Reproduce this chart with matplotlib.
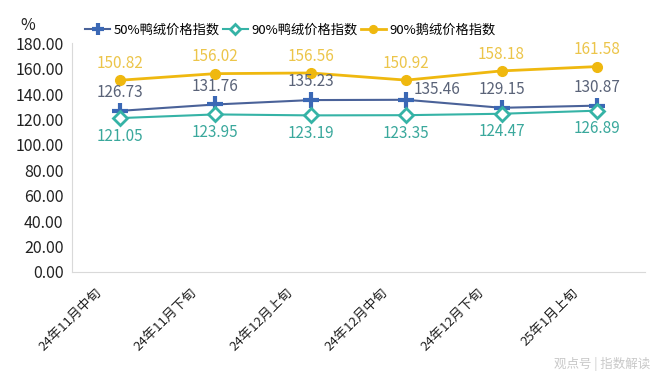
import matplotlib.pyplot as plt
from matplotlib.transforms import ScaledTranslation

plt.rcParams['font.family'] = ['Noto Sans CJK SC', 'DejaVu Sans']

categories = ['24年11月中旬', '24年11月下旬', '24年12月上旬', '24年12月中旬', '24年12月下旬', '25年1月上旬']
duck50 = [126.73, 131.76, 135.23, 135.46, 129.15, 130.87]
duck90 = [121.05, 123.95, 123.19, 123.35, 124.47, 126.89]
goose90 = [150.82, 156.02, 156.56, 150.92, 158.18, 161.58]
yticks = [0, 20, 40, 60, 80, 100, 120, 140, 160, 180]

blue = '#4a6299'
blue_mk = '#3b68b5'
teal = '#35b3a6'
gold = '#efb80f'

fig = plt.figure(figsize=(6.6, 3.82), dpi=100)
ax = fig.add_axes([0.109, 0.288, 0.868, 0.599])
x = range(len(categories))

ax.plot(x, duck50, color=blue, lw=1.5, marker='+', ms=11, mew=3, mec=blue_mk,
        label='50%鸭绒价格指数', zorder=3)
ax.plot(x, duck90, color=teal, lw=1.5, marker='D', ms=7, mew=2, mfc='white', mec=teal,
        label='90%鸭绒价格指数', zorder=4)
ax.plot(x, goose90, color=gold, lw=2, marker='o', ms=7, mec=gold, mfc=gold,
        label='90%鹅绒价格指数', zorder=3)

# label offsets for the 50% series (one sits to the right to dodge the line)
duck50_off = [(0, 7), (0, 7), (0, 7), (22, 1), (0, 7), (0, 7)]

for i in x:
    ax.annotate(f'{goose90[i]:.2f}', (i, goose90[i]), xytext=(0, 6), textcoords='offset points',
                ha='center', va='bottom', fontsize=11, color='#ecc54a')
    ax.annotate(f'{duck50[i]:.2f}', (i, duck50[i]), xytext=duck50_off[i], textcoords='offset points',
                ha='center', va='bottom', fontsize=11, color='#5a6378')
    ax.annotate(f'{duck90[i]:.2f}', (i, duck90[i]), xytext=(0, -7), textcoords='offset points',
                ha='center', va='top', fontsize=11, color='#3aa89c')

ax.set_xlim(-0.5, len(categories) - 0.5)
ax.set_ylim(0, 180)
ax.set_yticks(yticks)
ax.set_yticklabels([f'{v:.2f}' for v in yticks], fontsize=11.5, color='#222222')
ax.set_xticks(list(x))
ax.set_xticklabels(categories, rotation=45, ha='right', rotation_mode='anchor', fontsize=9.5,
                   color='#222222')
ax.tick_params(length=0, pad=6)
ax.tick_params(axis='x', pad=10)
shift = ScaledTranslation(-25 / 100, 0, fig.dpi_scale_trans)
for lbl in ax.get_xticklabels():
    lbl.set_transform(lbl.get_transform() + shift)
for s in ['top', 'right']:
    ax.spines[s].set_visible(False)
for s in ['left', 'bottom']:
    ax.spines[s].set_color('#d9d9d9')

fig.text(0.042, 0.932, '%', fontsize=11.5, ha='center', va='center', color='#222222')
ax.legend(loc='center left', bbox_to_anchor=(85 / 660, 1 - 30 / 382), bbox_transform=fig.transFigure,
          ncol=3, frameon=False, fontsize=9.5, handlelength=1.9, handletextpad=0.3,
          columnspacing=0.2, borderaxespad=0, borderpad=0, markerscale=0.8)
fig.text(0.985, 0.03, '观点号 | 指数解读', fontsize=9, ha='right', va='bottom', color='#c8c8c8')

fig.savefig('out.png', dpi=100)
